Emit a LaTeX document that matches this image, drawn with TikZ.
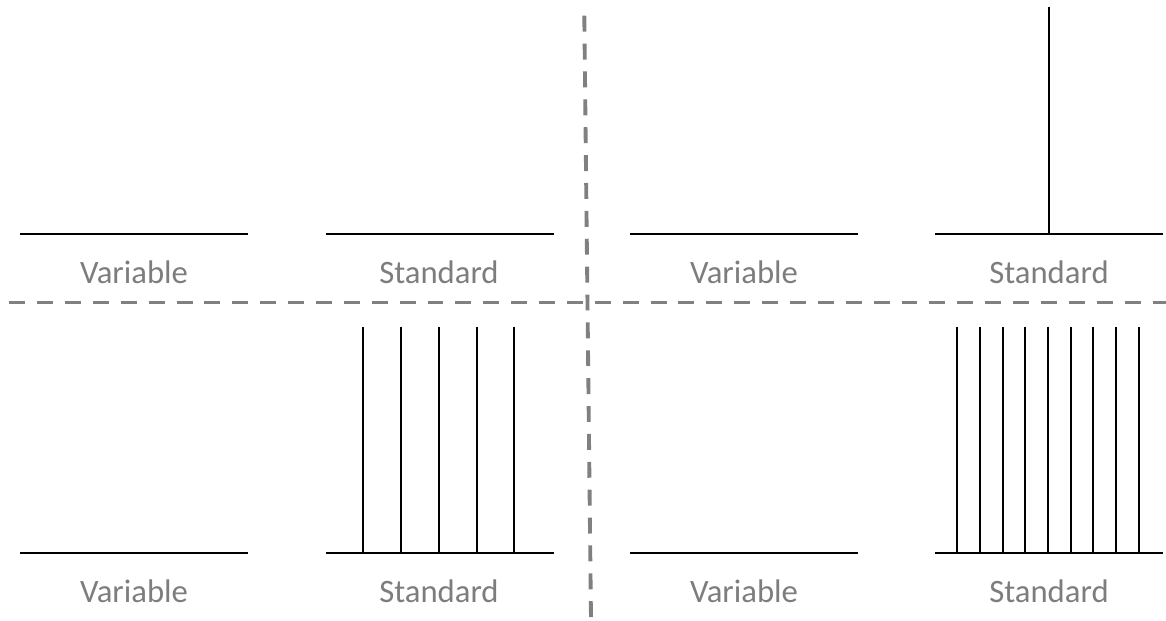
\documentclass[tikz,border=0pt]{standalone}
\usepackage{fontspec}
\setmainfont{Carlito}
\usepackage{xcolor}
\usetikzlibrary{positioning}
\definecolor{divgray}{RGB}{128,128,128}
\definecolor{labgray}{RGB}{125,125,125}
\tikzset{
  base/.style={line width=1.1pt, draw=black},
  tickline/.style={line width=1.1pt, draw=black},
  divider/.style={line width=2.2pt, draw=divgray, dash pattern=on 9.07pt off 6.8pt},
  lab/.style={font=\fontsize{18.6}{22}\selectfont, text=labgray, anchor=base, inner sep=0pt},
}

\begin{document}
\begin{tikzpicture}[x=0.02cm, y=-0.02cm]
    \useasboundingbox (0,0) rectangle (1166,620);
    % dividers
    \draw[divider] (584.3,15.7) -- (591,620);
    \draw[divider] (9.3,302.5) -- (1166,302.5);
    % baselines
    \foreach \x/\y in {20/234,326/234,630/234,935/234,20/553,326/553,630/553,935/553}{
      \draw[base] (\x,\y) -- ++(228,0);
    }
    % labels
    \node[lab] (varTL) at (134,283) {Variable};
    \node[lab] (stdTL) at (439,283) {Standard};
    \node[lab] (varTR) at (744,283) {Variable};
    \node[lab] (stdTR) at (1049,283) {Standard};
    \node[lab] (varBL) at (134,602) {Variable};
    \node[lab] (stdBL) at (439,602) {Standard};
    \node[lab] (varBR) at (744,602) {Variable};
    \node[lab] (stdBR) at (1049,602) {Standard};
    % vertical lines
    \draw[tickline] (1049.3,6.7) -- (1049.3,234);
    \foreach \x in {363.3,401,438.7,476.7,514.3}{\draw[tickline] (\x,326.5) -- (\x,553);}
    \foreach \i in {0,...,8}{\draw[tickline] (957.3+22.67*\i,326.5) -- (957.3+22.67*\i,553);}
\end{tikzpicture}
\end{document}
